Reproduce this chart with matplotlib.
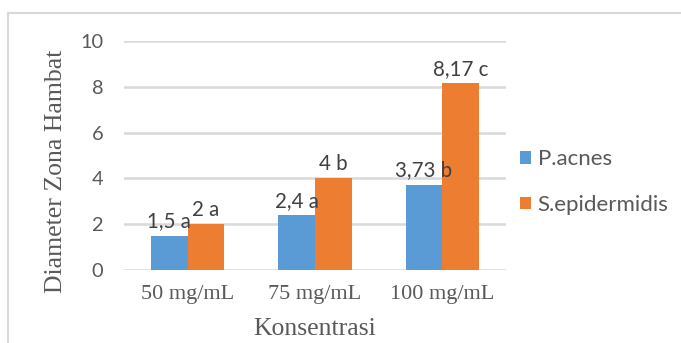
import matplotlib
matplotlib.use("Agg")
import matplotlib.pyplot as plt
import numpy as np
from matplotlib.lines import Line2D

categories = ["50 mg/mL", "75 mg/mL", "100 mg/mL"]
p_acnes = [1.5, 2.4, 3.73]
s_epi = [2.0, 4.0, 8.17]
p_acnes_labels = ["1,5 a", "2,4 a", "3,73 b"]
s_epi_labels = ["2 a", "4 b", "8,17 c"]
series_names = ["P.acnes", "S.epidermidis"]

BLUE = "#5B9BD5"
ORANGE = "#ED7D31"
TXT = "#595959"
GRID = "#D9D9D9"
SANS = ["Lato", "DejaVu Sans"]
SERIF = ["Liberation Serif", "DejaVu Serif"]

fig = plt.figure(figsize=(6.81, 3.43), dpi=100)
ax = fig.add_axes([124/681, 1-270/343, 382/681, 229/343])

x = np.arange(len(categories))
w = 0.287
b1 = ax.bar(x - w/2, p_acnes, w, color=BLUE, label=series_names[0], zorder=3)
b2 = ax.bar(x + w/2, s_epi, w, color=ORANGE, label=series_names[1], zorder=3)
ax.bar_label(b1, labels=p_acnes_labels, padding=3, fontsize=14.8, color="#404040", family=SANS)
ax.bar_label(b2, labels=s_epi_labels, padding=3, fontsize=14.8, color="#404040", family=SANS)

ax.set_xlim(-0.5, 2.5)
ax.set_ylim(0, 10)
ax.set_yticks([0, 2, 4, 6, 8, 10])
ax.set_xticks(x)
ax.set_xticklabels(categories, family=SERIF, fontsize=16, color=TXT)
for t in ax.get_yticklabels():
    t.set_family(SANS)
    t.set_fontsize(14.4)
    t.set_color(TXT)
ax.tick_params(axis="both", length=0)
ax.tick_params(axis="y", pad=15)
ax.tick_params(axis="x", pad=11)
ax.grid(axis="y", color=GRID, linewidth=1.8, zorder=0)
for s in ax.spines.values():
    s.set_visible(False)

ax.set_ylabel("Diameter Zona Hambat", family=SERIF, fontsize=18.5, color=TXT)
ax.yaxis.set_label_coords(-0.178, 0.43)
ax.yaxis.label.set_va("center")
ax.set_xlabel("Konsentrasi", family=SERIF, fontsize=18.5, color=TXT)
ax.xaxis.set_label_coords(0.5, -0.21)

leg = fig.legend(handles=[b1, b2], labels=series_names, loc="center left",
                 bbox_to_anchor=(500/681, 1-182/343), frameon=False,
                 handlelength=0.5, handleheight=0.5, handletextpad=0.3,
                 labelspacing=1.15, prop={"family": SANS, "size": 16})
for t in leg.get_texts():
    t.set_color(TXT)

# outer frame
fig.add_artist(Line2D([8/681, 8/681], [0, 1-13/343], transform=fig.transFigure,
                      color=GRID, linewidth=1.5))
fig.add_artist(Line2D([8/681, 1], [1-13/343, 1-13/343], transform=fig.transFigure,
                      color=GRID, linewidth=1.5))

fig.savefig("out.png", dpi=100)
